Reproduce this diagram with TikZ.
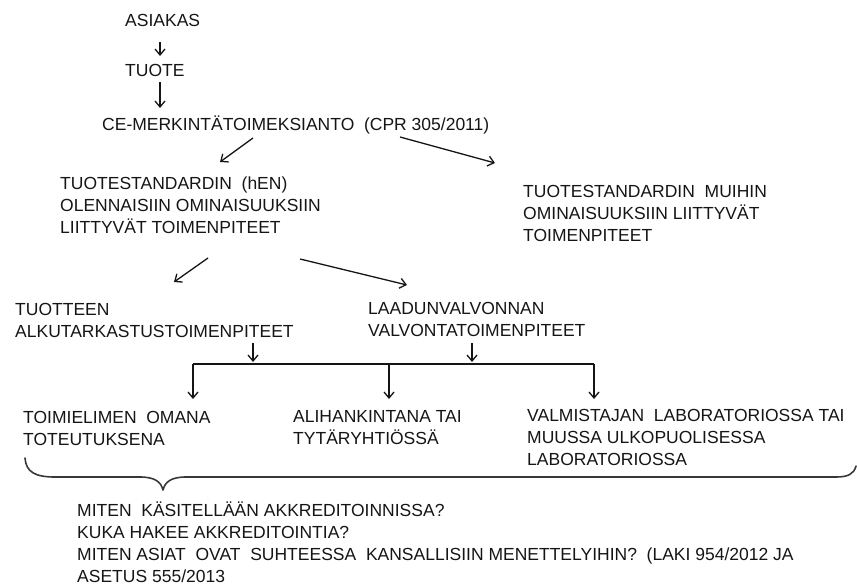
\documentclass[tikz,border=0pt]{standalone}
\usepackage{fontspec}
\setmainfont{Liberation Sans}
\usetikzlibrary{arrows.meta}
\definecolor{ink}{HTML}{151515}
\tikzset{
  txt/.style={anchor=west, inner sep=0pt, align=left, text=ink,
    font=\fontsize{17.5}{22}\selectfont},
  arr/.style={draw=ink, line width=1.3pt, -{Straight Barb[length=6pt,width=10pt]}},
  ln/.style={draw=ink, line width=1.3pt},
  bracestyle/.style={draw=ink!85, line width=1.6pt, line cap=round, line join=round}
}
\begin{document}
\begin{tikzpicture}[x=1pt,y=-1pt]
\useasboundingbox (0,0) rectangle (857,586);
% texts
\node[txt] (asiakas) at (125,20) {ASIAKAS};
\node[txt] (tuote) at (125,70) {TUOTE};
\node[txt] (ce) at (102,125) {CE-MERKINTÄTOIMEKSIANTO\ \ (CPR 305/2011)};
\node[txt] (hen) at (60,205) {TUOTESTANDARDIN\ \ (hEN)\\OLENNAISIIN OMINAISUUKSIIN\\LIITTYVÄT TOIMENPITEET};
\node[txt] (muut) at (523,213.5) {TUOTESTANDARDIN\ \ MUIHIN\\OMINAISUUKSIIN LIITTYVÄT\\TOIMENPITEET};
\node[txt] (alku) at (15,320) {TUOTTEEN\\ALKUTARKASTUSTOIMENPITEET};
\node[txt] (laatu) at (368,319) {LAADUNVALVONNAN\\VALVONTATOIMENPITEET};
\node[txt] (toim) at (23,428) {TOIMIELIMEN\ \ OMANA\\TOTEUTUKSENA};
\node[txt] (ali) at (293,428) {ALIHANKINTANA TAI\\TYTÄRYHTIÖSSÄ};
\node[txt] (valm) at (527,437.5) {VALMISTAJAN\ \ LABORATORIOSSA TAI\\MUUSSA ULKOPUOLISESSA\\LABORATORIOSSA};
\node[txt] (q) at (77,542) {MITEN\ \ KÄSITELLÄÄN AKKREDITOINNISSA?\\KUKA HAKEE AKKREDITOINTIA?\\MITEN ASIAT\ \ OVAT\ \ SUHTEESSA\ \ KANSALLISIIN MENETTELYIHIN?\ \ (LAKI 954/2012 JA\\ASETUS 555/2013};
% connector endpoints
\coordinate (a1s) at (160,42);  \coordinate (a1e) at (160,56);
\coordinate (a2s) at (160,82);  \coordinate (a2e) at (160,108);
\coordinate (a3s) at (253,138); \coordinate (a3e) at (220,162);
\coordinate (a4s) at (400,137); \coordinate (a4e) at (495,163);
\coordinate (a5s) at (208,258); \coordinate (a5e) at (174,282);
\coordinate (a6s) at (300,259); \coordinate (a6e) at (407,285);
\coordinate (a7s) at (253,343); \coordinate (a7e) at (253,362);
\coordinate (a8s) at (472,343); \coordinate (a8e) at (472,362);
\coordinate (hl) at (193,364); \coordinate (hm) at (389,364); \coordinate (hr) at (594,364);
\coordinate (dl) at (193,399); \coordinate (dm) at (389,399); \coordinate (dr) at (594,399);
% arrows
\draw[arr] (a1s) -- (a1e);
\draw[arr] (a2s) -- (a2e);
\draw[arr] (a3s) -- (a3e);
\draw[arr] (a4s) -- (a4e);
\draw[arr] (a5s) -- (a5e);
\draw[arr] (a6s) -- (a6e);
\draw[arr] (a7s) -- (a7e);
\draw[arr] (a8s) -- (a8e);
\draw[ln] (hl) -- (hr);
\draw[arr] (hl) -- (dl);
\draw[arr] (hm) -- (dm);
\draw[arr] (hr) -- (dr);
% brace
\coordinate (bl) at (25,458);
\coordinate (bt) at (163,490);
\coordinate (br) at (856,466);
\draw[bracestyle] (bl) .. controls (26,472) and (35,477) .. (55,477)
  -- (140,477) .. controls (155,477) and (161,482) .. (bt)
  .. controls (165,482) and (171,477) .. (186,477)
  -- (836,477) .. controls (848,477) and (854,474) .. (br);
\end{tikzpicture}
\end{document}
